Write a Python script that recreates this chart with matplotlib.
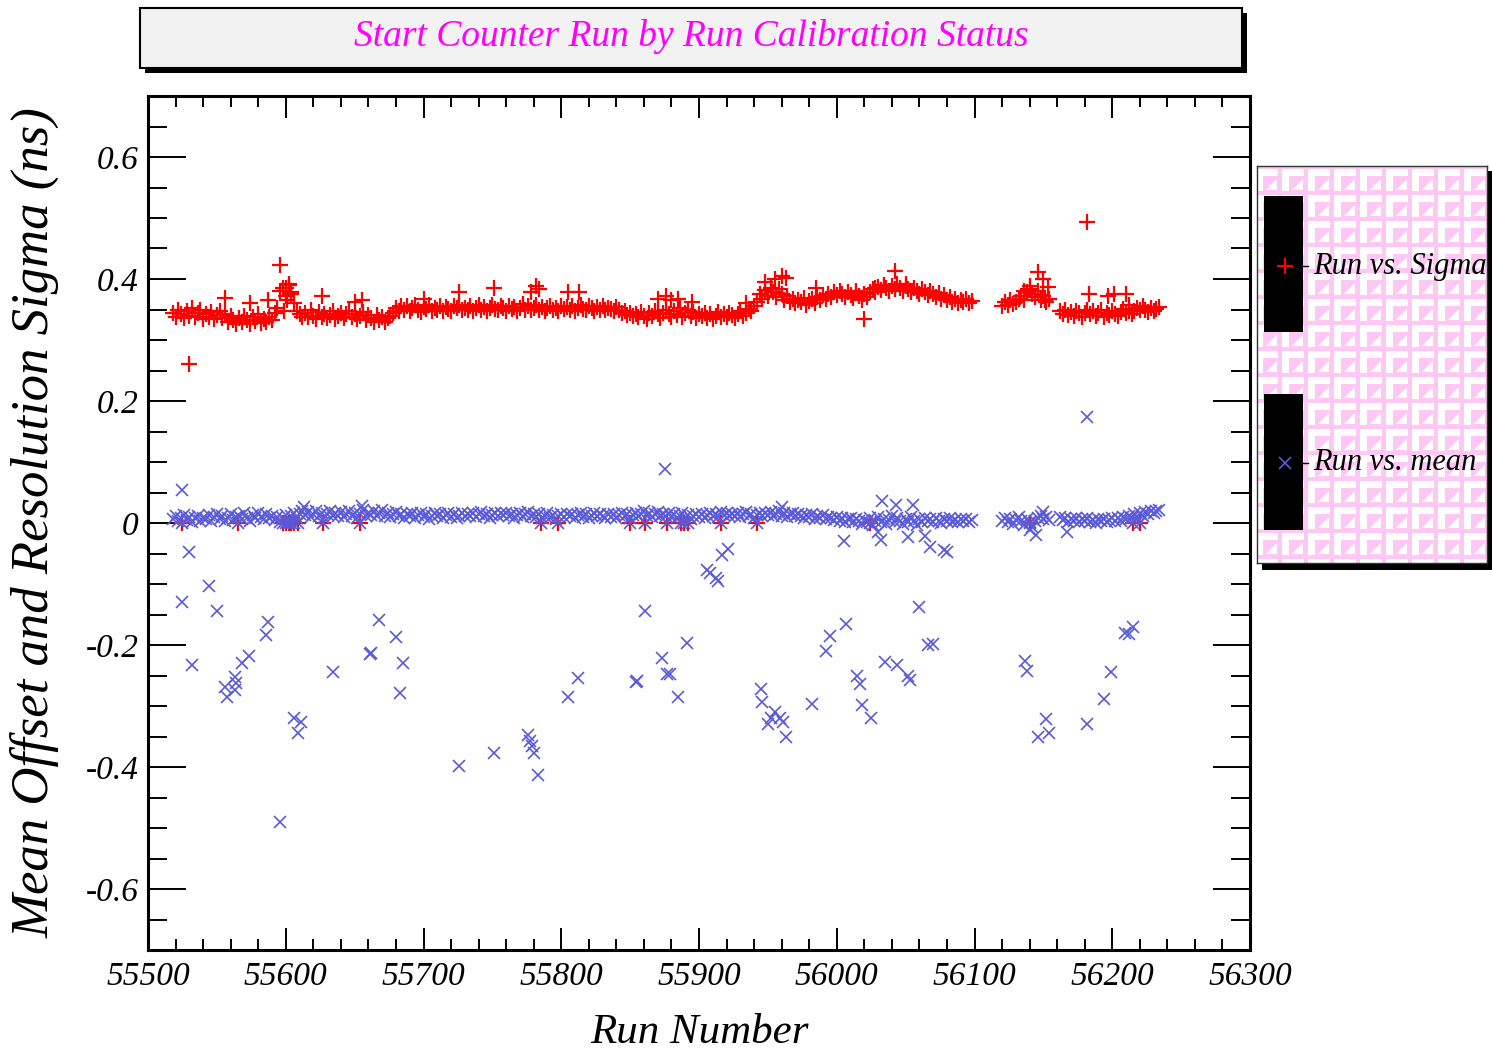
import matplotlib
matplotlib.use("Agg")
import matplotlib.pyplot as plt
from matplotlib.patches import Rectangle, Polygon
from matplotlib.ticker import MultipleLocator, FuncFormatter

plt.rcParams['font.family'] = ['Liberation Serif', 'DejaVu Serif']
plt.rcParams['font.style'] = 'italic'
plt.rcParams['axes.unicode_minus'] = False

band_runs = [
    55518, 55520, 55522, 55524, 55526, 55528, 55530, 55532, 55534, 55536, 55538, 55540,
    55542, 55544, 55546, 55548, 55550, 55552, 55554, 55556, 55558, 55560, 55562, 55564,
    55566, 55568, 55570, 55572, 55574, 55576, 55578, 55580, 55582, 55584, 55586, 55588,
    55590, 55592, 55594, 55596, 55598, 55600, 55602, 55604, 55606, 55608, 55610, 55612,
    55614, 55616, 55618, 55620, 55622, 55624, 55626, 55628, 55630, 55632, 55634, 55636,
    55638, 55640, 55642, 55644, 55646, 55648, 55650, 55652, 55654, 55656, 55658, 55660,
    55662, 55664, 55666, 55668, 55670, 55672, 55674, 55676, 55678, 55680, 55682, 55684,
    55686, 55688, 55690, 55692, 55694, 55696, 55698, 55700, 55702, 55704, 55706, 55708,
    55710, 55712, 55714, 55716, 55718, 55720, 55722, 55724, 55726, 55728, 55730, 55732,
    55734, 55736, 55738, 55740, 55742, 55744, 55746, 55748, 55750, 55752, 55754, 55756,
    55758, 55760, 55762, 55764, 55766, 55768, 55770, 55772, 55774, 55776, 55778, 55780,
    55782, 55784, 55786, 55788, 55790, 55792, 55794, 55796, 55798, 55800, 55802, 55804,
    55806, 55808, 55810, 55812, 55814, 55816, 55818, 55820, 55822, 55824, 55826, 55828,
    55830, 55832, 55834, 55836, 55838, 55840, 55842, 55844, 55846, 55848, 55850, 55852,
    55854, 55856, 55858, 55860, 55862, 55864, 55866, 55868, 55870, 55872, 55874, 55876,
    55878, 55880, 55882, 55884, 55886, 55888, 55890, 55892, 55894, 55896, 55898, 55900,
    55902, 55904, 55906, 55908, 55910, 55912, 55914, 55916, 55918, 55920, 55922, 55924,
    55926, 55928, 55930, 55932, 55934, 55936, 55938, 55940, 55942, 55944, 55946, 55948,
    55950, 55952, 55954, 55956, 55958, 55960, 55962, 55964, 55966, 55968, 55970, 55972,
    55974, 55976, 55978, 55980, 55982, 55984, 55986, 55988, 55990, 55992, 55994, 55996,
    55998, 56000, 56002, 56004, 56006, 56008, 56010, 56012, 56014, 56016, 56018, 56020,
    56022, 56024, 56026, 56028, 56030, 56032, 56034, 56036, 56038, 56040, 56042, 56044,
    56046, 56048, 56050, 56052, 56054, 56056, 56058, 56060, 56062, 56064, 56066, 56068,
    56070, 56072, 56074, 56076, 56078, 56080, 56082, 56084, 56086, 56088, 56090, 56092,
    56094, 56096, 56098,
    56120, 56122, 56124, 56126, 56128, 56130, 56132, 56134, 56136, 56138, 56140, 56142,
    56144, 56146, 56148, 56150, 56152, 56154,
    56162, 56164, 56166, 56168, 56170, 56172, 56174, 56176, 56178, 56180, 56182, 56184,
    56186, 56188, 56190, 56192, 56194, 56196, 56198, 56200, 56202, 56204, 56206, 56208,
    56210, 56212, 56214, 56216, 56218, 56220, 56222, 56224, 56226, 56228, 56230, 56232,
    56234,
]

band_sigma = [
    0.345, 0.338, 0.350, 0.342, 0.336, 0.347, 0.340, 0.352, 0.337, 0.344, 0.349, 0.335,
    0.343, 0.338, 0.346, 0.334, 0.341, 0.348, 0.336, 0.343, 0.330, 0.339, 0.333, 0.327,
    0.336, 0.329, 0.340, 0.332, 0.326, 0.337, 0.331, 0.342, 0.328, 0.335, 0.330, 0.338,
    0.333, 0.344, 0.352, 0.380, 0.385, 0.372, 0.390, 0.376, 0.360, 0.348, 0.342, 0.338,
    0.345, 0.337, 0.349, 0.340, 0.335, 0.346, 0.338, 0.343, 0.336, 0.341, 0.347, 0.334,
    0.340, 0.345, 0.336, 0.342, 0.348, 0.337, 0.343, 0.335, 0.339, 0.346, 0.333, 0.341,
    0.336, 0.330, 0.341, 0.333, 0.338, 0.329, 0.336, 0.340, 0.345, 0.352, 0.348, 0.355,
    0.349, 0.356, 0.347, 0.353, 0.358, 0.350, 0.346, 0.354, 0.351, 0.357, 0.348, 0.353,
    0.350, 0.356, 0.348, 0.354, 0.351, 0.347, 0.355, 0.352, 0.358, 0.349, 0.353, 0.350,
    0.356, 0.348, 0.352, 0.357, 0.350, 0.354, 0.347, 0.353, 0.358, 0.351, 0.349, 0.355,
    0.352, 0.348, 0.356, 0.351, 0.354, 0.347, 0.353, 0.359, 0.350, 0.355, 0.349, 0.352,
    0.357, 0.350, 0.354, 0.348, 0.352, 0.356, 0.349, 0.353, 0.347, 0.355, 0.351, 0.354,
    0.350, 0.356, 0.348, 0.353, 0.357, 0.351, 0.349, 0.355, 0.352, 0.347, 0.354, 0.350,
    0.356, 0.349, 0.353, 0.351, 0.347, 0.354, 0.350, 0.345, 0.348, 0.341, 0.344, 0.339,
    0.343, 0.337, 0.346, 0.340, 0.335, 0.344, 0.339, 0.348, 0.342, 0.336, 0.345, 0.350,
    0.343, 0.338, 0.347, 0.341, 0.352, 0.337, 0.344, 0.349, 0.340, 0.346, 0.336, 0.343,
    0.339, 0.345, 0.336, 0.342, 0.334, 0.340, 0.346, 0.337, 0.343, 0.338, 0.345, 0.341,
    0.336, 0.343, 0.347, 0.340, 0.345, 0.351, 0.348, 0.356, 0.362, 0.375, 0.368, 0.382,
    0.372, 0.386, 0.378, 0.370, 0.384, 0.375, 0.366, 0.372, 0.363, 0.368, 0.360, 0.366,
    0.362, 0.369, 0.358, 0.364, 0.367, 0.361, 0.370, 0.365, 0.373, 0.368, 0.376, 0.371,
    0.378, 0.373, 0.381, 0.375, 0.370, 0.379, 0.374, 0.369, 0.377, 0.372, 0.366, 0.375,
    0.370, 0.378, 0.384, 0.379, 0.387, 0.382, 0.390, 0.385, 0.380, 0.388, 0.383, 0.391,
    0.385, 0.380, 0.388, 0.383, 0.378, 0.386, 0.381, 0.376, 0.383, 0.378, 0.373, 0.380,
    0.375, 0.370, 0.377, 0.368, 0.373, 0.365, 0.371, 0.363, 0.368, 0.361, 0.366, 0.362,
    0.367, 0.360, 0.364,
    0.356, 0.362, 0.358, 0.365, 0.359, 0.363, 0.368, 0.372, 0.366, 0.378, 0.384, 0.375,
    0.370, 0.380, 0.366, 0.372, 0.362, 0.368,
    0.348, 0.343, 0.350, 0.341, 0.346, 0.339, 0.347, 0.344, 0.338, 0.345, 0.350, 0.342,
    0.347, 0.340, 0.344, 0.349, 0.337, 0.345, 0.341, 0.348, 0.343, 0.339, 0.346, 0.351,
    0.344, 0.348, 0.342, 0.347, 0.353, 0.349, 0.355, 0.350, 0.346, 0.353, 0.348, 0.351,
    0.354,
]

band_mean = [
    0.006, 0.011, 0.003, 0.009, 0.013, 0.005, 0.010, 0.002, 0.008, 0.012, 0.004, 0.009,
    0.007, 0.013, 0.004, 0.010, 0.015, 0.006, 0.011, 0.003, 0.009, 0.014, 0.005, 0.010,
    0.012, 0.007, 0.016, 0.009, 0.004, 0.013, 0.008, 0.017, 0.010, 0.006, 0.014, 0.009,
    0.012, 0.005, 0.010, 0.002, 0.008, 0.013, 0.004, 0.011, 0.016, 0.009, 0.014, 0.019,
    0.013, 0.018, 0.010, 0.015, 0.020, 0.012, 0.017, 0.009, 0.014, 0.019, 0.011, 0.016,
    0.012, 0.018, 0.010, 0.015, 0.020, 0.011, 0.016, 0.009, 0.014, 0.021, 0.012, 0.017,
    0.013, 0.019, 0.011, 0.016, 0.021, 0.012, 0.017, 0.010, 0.015, 0.018, 0.011, 0.014,
    0.009, 0.015, 0.011, 0.016, 0.008, 0.013, 0.017, 0.010, 0.014, 0.007, 0.012, 0.016,
    0.011, 0.015, 0.009, 0.013, 0.017, 0.010, 0.014, 0.008, 0.012, 0.016, 0.011, 0.015,
    0.012, 0.016, 0.010, 0.014, 0.018, 0.011, 0.015, 0.009, 0.013, 0.017, 0.012, 0.016,
    0.013, 0.017, 0.011, 0.015, 0.009, 0.013, 0.016, 0.010, 0.014, 0.018, 0.012, 0.015,
    0.010, 0.014, 0.008, 0.012, 0.016, 0.009, 0.013, 0.007, 0.011, 0.015, 0.010, 0.014,
    0.011, 0.015, 0.009, 0.013, 0.017, 0.010, 0.014, 0.008, 0.012, 0.016, 0.011, 0.015,
    0.012, 0.008, 0.014, 0.010, 0.015, 0.009, 0.013, 0.016, 0.011, 0.014, 0.009, 0.013,
    0.016, 0.011, 0.015, 0.019, 0.012, 0.017, 0.010, 0.014, 0.018, 0.011, 0.015, 0.012,
    0.016, 0.010, 0.014, 0.008, 0.012, 0.016, 0.009, 0.013, 0.007, 0.012, 0.015, 0.010,
    0.014, 0.009, 0.013, 0.017, 0.011, 0.015, 0.010, 0.018, 0.013, 0.016, 0.011, 0.015,
    0.012, 0.016, 0.010, 0.014, 0.018, 0.011, 0.015, 0.009, 0.013, 0.017, 0.012, 0.016,
    0.013, 0.018, 0.011, 0.015, 0.020, 0.012, 0.016, 0.010, 0.014, 0.017, 0.011, 0.015,
    0.012, 0.008, 0.013, 0.010, 0.014, 0.007, 0.011, 0.009, 0.013, 0.006, 0.010, 0.008,
    0.005, 0.010, 0.003, 0.008, 0.001, 0.006, 0.009, 0.002, 0.007, 0.004, -0.001, 0.005,
    0.002, 0.008, -0.003, 0.004, 0.010, 0.001, 0.007, -0.002, 0.005, 0.011, 0.002, 0.008,
    0.004, -0.001, 0.007, 0.002, 0.010, 0.004, -0.003, 0.006, 0.001, 0.009, 0.003, 0.007,
    0.002, 0.008, 0.004, 0.000, 0.006, 0.003, 0.009, 0.001, 0.005, 0.002, 0.007, 0.003,
    0.006, 0.002, 0.005,
    0.004, 0.008, 0.001, 0.006, -0.002, 0.005, 0.010, 0.003, -0.004, 0.007, 0.002, -0.006,
    0.004, 0.009, 0.012, 0.006, 0.010, 0.005,
    0.010, 0.005, 0.008, 0.002, 0.007, 0.004, 0.009, 0.001, 0.006, 0.003, 0.008, 0.002,
    0.005, 0.000, 0.006, 0.003, 0.007, 0.002, 0.005, 0.009, 0.004, 0.008, 0.003, 0.010,
    0.006, 0.012, 0.008, 0.014, 0.010, 0.016, 0.012, 0.018, 0.014, 0.020, 0.016, 0.019,
    0.022,
]

# runs where the fit failed: sigma and mean both 0
failed_runs = [55525, 55565, 55598, 55600, 55602, 55604, 55606, 55609, 55627, 55654,
               55785, 55798, 55850, 55861, 55877, 55887, 55889, 55892, 55916, 55942,
               56024, 56140, 56215, 56220]
failed_sigma = [0.0] * len(failed_runs)
failed_mean = [0.0] * len(failed_runs)

# sigma points off the band
sigma_out_runs = [55530, 55596, 55600, 55602, 55604, 55601, 55599, 55556, 55587, 55574,
                  55626, 55650, 55655, 55700, 55726, 55751, 55778, 55782, 55784, 55805,
                  55813, 55870, 55876, 55880, 55885, 55895, 55934, 55948, 55955, 55960,
                  55963, 55985, 56014, 56016, 56020, 56028, 56034, 56042, 56050, 56136,
                  56140, 56146, 56150, 56153, 56151, 56182, 56183, 56197, 56201, 56210,
                  56212]
sigma_out_vals = [0.261, 0.423, 0.385, 0.392, 0.378, 0.366, 0.347, 0.369, 0.366, 0.360,
                  0.372, 0.362, 0.365, 0.368, 0.379, 0.385, 0.378, 0.388, 0.384, 0.378,
                  0.378, 0.368, 0.372, 0.365, 0.368, 0.362, 0.360, 0.395, 0.400, 0.405,
                  0.402, 0.385, 0.380, 0.372, 0.334, 0.385, 0.390, 0.413, 0.392, 0.380,
                  0.388, 0.411, 0.400, 0.387, 0.365, 0.493, 0.375, 0.372, 0.376, 0.376,
                  0.358]

# mean points off the band
mean_out_runs = [55525, 55525, 55530, 55532, 55544, 55550, 55556, 55557, 55563, 55563,
                 55564, 55568, 55573, 55587, 55586, 55596, 55606, 55609, 55611, 55634,
                 55661, 55662, 55668, 55680, 55683, 55685, 55726, 55751, 55776, 55777,
                 55779, 55780, 55783, 55805, 55812, 55854, 55855, 55861, 55875, 55873,
                 55877, 55879, 55885, 55891, 55906, 55908, 55912, 55914, 55917, 55921,
                 55945, 55946, 55950, 55952, 55955, 55959, 55961, 55963, 55982, 55992,
                 55995, 56005, 56007, 56015, 56017, 56018, 56025, 56032, 56033, 56035,
                 56044, 56052, 56053, 56055, 56052, 56060, 56066, 56070, 56068, 56078,
                 56080, 56137, 56138, 56140, 56146, 56152, 56154, 56150, 56167, 56182,
                 56182, 56194, 56199, 56209, 56212, 56215, 55613, 55655, 55960, 56043,
                 56064, 56030, 56145]
mean_out_vals = [0.054, -0.130, -0.048, -0.233, -0.103, -0.145, -0.269, -0.285, -0.253, -0.274,
                 -0.262, -0.230, -0.218, -0.162, -0.183, -0.490, -0.320, -0.345, -0.327, -0.244,
                 -0.215, -0.213, -0.159, -0.187, -0.279, -0.230, -0.399, -0.377, -0.348, -0.357,
                 -0.365, -0.377, -0.413, -0.285, -0.254, -0.261, -0.259, -0.144, 0.088, -0.222,
                 -0.248, -0.248, -0.285, -0.197, -0.077, -0.082, -0.090, -0.095, -0.052, -0.042,
                 -0.272, -0.294, -0.330, -0.320, -0.310, -0.320, -0.327, -0.350, -0.297, -0.210,
                 -0.186, -0.030, -0.166, -0.250, -0.264, -0.298, -0.320, -0.028, 0.036, -0.228,
                 -0.233, -0.250, -0.257, 0.030, -0.023, -0.137, -0.200, -0.198, -0.040, -0.045,
                 -0.048, -0.227, -0.243, -0.012, -0.350, -0.322, -0.345, 0.018, -0.015, 0.174,
                 -0.330, -0.288, -0.245, -0.180, -0.182, -0.170, 0.026, 0.028, 0.027, 0.030,
                 -0.022, -0.015, -0.020]

W, H = 1492, 1060
fig = plt.figure(figsize=(W / 100, H / 100), dpi=100)


def fig_box(x, y, w, h):
    # pixel box (top-left origin) -> figure fraction
    return (x / W, (H - y - h) / H, w / W, h / H)


# title box with shadow
x0, y0, w0, h0 = fig_box(145, 13, 1102, 60)
fig.patches.append(Rectangle((x0, y0), w0, h0, transform=fig.transFigure,
                             facecolor="black", edgecolor="none", zorder=-2))
x0, y0, w0, h0 = fig_box(140, 8, 1102, 60)
fig.patches.append(Rectangle((x0, y0), w0, h0, transform=fig.transFigure,
                             facecolor="#f2f2f2", edgecolor="black", linewidth=1.5,
                             zorder=-1))
fig.text((140 + 551) / W, 1 - 37 / H, "Start Counter Run by Run Calibration Status",
         color="#ff00ff", fontsize=27, ha="center", va="center")

ax = fig.add_axes(fig_box(148, 96, 1102, 854))

red_style = dict(linestyle="none", marker="+", color="#ff0000",
                 markersize=12, markeredgewidth=1.6)
blue_style = dict(linestyle="none", marker="x", color="#5a5ad8",
                  markersize=8.5, markeredgewidth=1.2)

ax.plot(band_runs, band_sigma, **red_style)
ax.plot(sigma_out_runs, sigma_out_vals, **red_style)
ax.plot(failed_runs, failed_sigma, **red_style)

ax.plot(band_runs, band_mean, **blue_style)
ax.plot(mean_out_runs, mean_out_vals, **blue_style)
ax.plot(failed_runs, failed_mean, **blue_style)

ax.set_xlim(55500, 56300)
ax.set_ylim(-0.7, 0.7)

ax.xaxis.set_major_locator(MultipleLocator(100))
ax.xaxis.set_minor_locator(MultipleLocator(20))
ax.yaxis.set_major_locator(MultipleLocator(0.2))
ax.yaxis.set_minor_locator(MultipleLocator(0.05))
ax.xaxis.set_major_formatter(FuncFormatter(lambda v, p: "%d" % round(v)))
ax.yaxis.set_major_formatter(FuncFormatter(lambda v, p: "%g" % round(v, 2)))

ax.tick_params(axis="both", which="both", direction="in", top=True, right=True,
               width=1.4, labelsize=24)
ax.tick_params(axis="x", which="major", length=16, pad=8)
ax.tick_params(axis="x", which="minor", length=8)
ax.tick_params(axis="y", which="major", length=27, pad=7)
ax.tick_params(axis="y", which="minor", length=13.5)

for side in ax.spines.values():
    side.set_linewidth(2.2)

ax.set_xlabel("Run Number", fontsize=31)
ax.set_ylabel("Mean Offset and Resolution Sigma (ns)", fontsize=38)
ax.xaxis.set_label_coords(0.5, -0.074)
ax.yaxis.set_label_coords(-0.080, 0.5)

# legend box with a patterned fill and a shadow
x0, y0, w0, h0 = fig_box(1262, 171, 230, 399)
fig.patches.append(Rectangle((x0, y0), w0, h0, transform=fig.transFigure,
                             facecolor="black", edgecolor="none", zorder=-2))
leg = fig.add_axes(fig_box(1257, 166, 230, 397))
leg.set_zorder(5)
leg.set_xlim(0, 230)
leg.set_ylim(397, 0)
leg.set_facecolor("#ffc8f4")
leg.set_xticks([])
leg.set_yticks([])
for side in leg.spines.values():
    side.set_linewidth(1.0)
    side.set_color("#333333")

cell = 26
for i in range(10):
    for j in range(16):
        cx = i * cell - 2
        cy = j * cell + 2
        leg.add_patch(Rectangle((cx + 1, cy + 1), 22, 7, facecolor="white",
                                edgecolor="none"))
        leg.add_patch(Rectangle((cx + 1, cy + 1), 7, 22, facecolor="white",
                                edgecolor="none"))
        leg.add_patch(Polygon([(cx + 11, cy + 22), (cx + 22, cy + 22), (cx + 22, cy + 11)],
                              closed=True, facecolor="white", edgecolor="none"))

leg.add_patch(Rectangle((7, 30), 39, 136, facecolor="black", edgecolor="none"))
leg.add_patch(Rectangle((7, 228), 39, 136, facecolor="black", edgecolor="none"))
leg.plot([46, 51], [100, 100], color="black", linewidth=1)
leg.plot([46, 51], [297, 297], color="black", linewidth=1)
leg.plot([28], [100], **red_style)
leg.plot([28], [297], **blue_style)
leg.text(56, 100, "Run vs. Sigma", fontsize=22, va="center", ha="left")
leg.text(56, 297, "Run vs. mean", fontsize=22, va="center", ha="left")

fig.savefig("out.png", dpi=100)
plt.close(fig)
